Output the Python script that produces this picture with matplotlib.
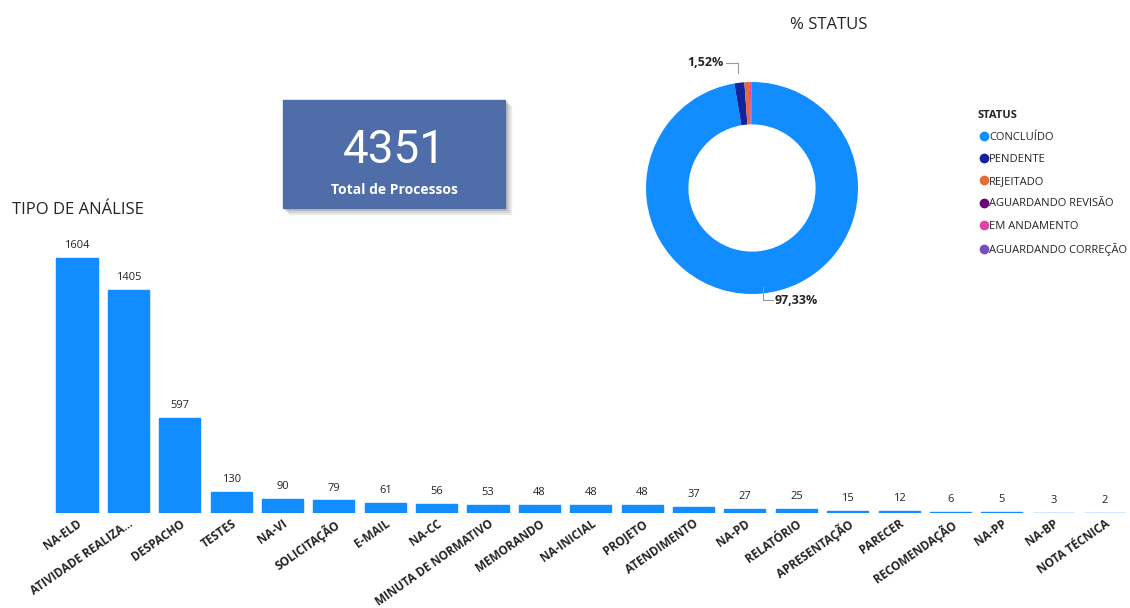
import matplotlib.pyplot as plt
from matplotlib.patches import Rectangle
from matplotlib.lines import Line2D

plt.rcParams['font.family'] = ['Open Sans', 'DejaVu Sans']

tipos = ['NA-ELD', 'ATIVIDADE REALIZA...', 'DESPACHO', 'TESTES', 'NA-VI', 'SOLICITAÇÃO',
         'E-MAIL', 'NA-CC', 'MINUTA DE NORMATIVO', 'MEMORANDO', 'NA-INICIAL', 'PROJETO',
         'ATENDIMENTO', 'NA-PD', 'RELATÓRIO', 'APRESENTAÇÃO', 'PARECER', 'RECOMENDAÇÃO',
         'NA-PP', 'NA-BP', 'NOTA TÉCNICA']
qtd = [1604, 1405, 597, 130, 90, 79, 61, 56, 53, 48, 48, 48, 37, 27, 25, 15, 12, 6, 5, 3, 2]

status = ['CONCLUÍDO', 'PENDENTE', 'REJEITADO', 'AGUARDANDO REVISÃO',
          'EM ANDAMENTO', 'AGUARDANDO CORREÇÃO']
status_qtd = [4235, 66, 33, 2, 13, 2]
status_cores = ['#118DFF', '#12239E', '#E66C37', '#6B007B', '#E044A7', '#744EC2']

total = 4351
txt = '#252423'

fig = plt.figure(figsize=(11.3, 6.08), dpi=100)

# barras
ax = fig.add_axes([51.3 / 1130, 95 / 608, 1079 / 1130, 286 / 608])
x = range(len(tipos))
ax.bar(x, qtd, width=0.8, color='#118DFF', edgecolor='#118DFF', linewidth=1.0)
for i, v in zip(x, qtd):
    ax.annotate(str(v), (i, v), xytext=(0, 5), textcoords='offset points',
                ha='center', va='bottom', fontsize=8, color=txt)
ax.set_xlim(-0.5, len(tipos) - 0.5)
ax.set_ylim(0, 1800)
ax.set_yticks([])
ax.set_xticks(list(x))
ax.set_xticklabels(tipos, rotation=35, ha='right', rotation_mode='anchor',
                   fontsize=8.5, fontweight='bold', color=txt)
ax.tick_params(axis='x', length=0, pad=3)
for s in ax.spines.values():
    s.set_visible(False)
fig.text(12 / 1130, 1 - 210 / 608, 'TIPO DE ANÁLISE', fontsize=12, color=txt, va='center')

# cartao
for k, a in [(6, 0.06), (4, 0.08), (2, 0.1)]:
    fig.patches.append(Rectangle(((283 + k) / 1130, (400 - k) / 608), 222 / 1130, 108 / 608,
                                 transform=fig.transFigure, color='#000000', alpha=a, zorder=0))
fig.patches.append(Rectangle((283 / 1130, 400 / 608), 222 / 1130, 108 / 608,
                             transform=fig.transFigure, color='#4F6DA8', zorder=1))
fig.text(394 / 1130, 1 - 150 / 608, str(total), fontsize=33, color='white',
         ha='center', va='center', family='Roboto', zorder=2)
fig.text(394 / 1130, 1 - 190 / 608, 'Total de Processos', fontsize=10, color='white',
         ha='center', va='center', fontweight='bold', zorder=2)

# rosca
w = 2.6 * 106
axp = fig.add_axes([(752 - w / 2) / 1130, (608 - 188 - w / 2) / 608, w / 1130, w / 608])
axp.pie(status_qtd, colors=status_cores, startangle=90, counterclock=False,
        wedgeprops=dict(width=0.4, edgecolor='none'))
axp.set_xlim(-1.3, 1.3)
axp.set_ylim(-1.3, 1.3)
axp.set_aspect('equal')
axp.axis('off')
pct = [v / sum(status_qtd) * 100 for v in status_qtd]
axp.plot([-0.13, -0.13, -0.245], [1.085, 1.18, 1.18], color='#999999', lw=0.8)
axp.text(-0.27, 1.18, f'{pct[1]:.2f}%'.replace('.', ','), ha='right', va='center',
         fontsize=9, fontweight='bold', color=txt)
axp.plot([0.104, 0.104, 0.198], [-0.934, -1.057, -1.057], color='#999999', lw=0.8)
axp.text(0.215, -1.057, f'{pct[0]:.2f}%'.replace('.', ','), ha='left', va='center',
         fontsize=9, fontweight='bold', color=txt)
fig.text(829 / 1130, 1 - 25 / 608, '% STATUS', fontsize=12, color=txt, ha='center', va='center')

# legenda
handles = [Line2D([], [], marker='o', ls='none', color=c, markersize=6) for c in status_cores]
leg = fig.legend(handles, status, loc='upper left', bbox_to_anchor=(978 / 1130, 1 - 110 / 608),
                 frameon=False, fontsize=8, labelspacing=1.0, handletextpad=0.0,
                 handlelength=1.0, borderpad=0, borderaxespad=0,
                 title='STATUS', title_fontproperties={'weight': 'bold', 'size': 8})
leg._legend_box.align = 'left'
for t in leg.get_texts():
    t.set_color(txt)
leg.get_title().set_color(txt)

fig.savefig('out.png', dpi=100)
